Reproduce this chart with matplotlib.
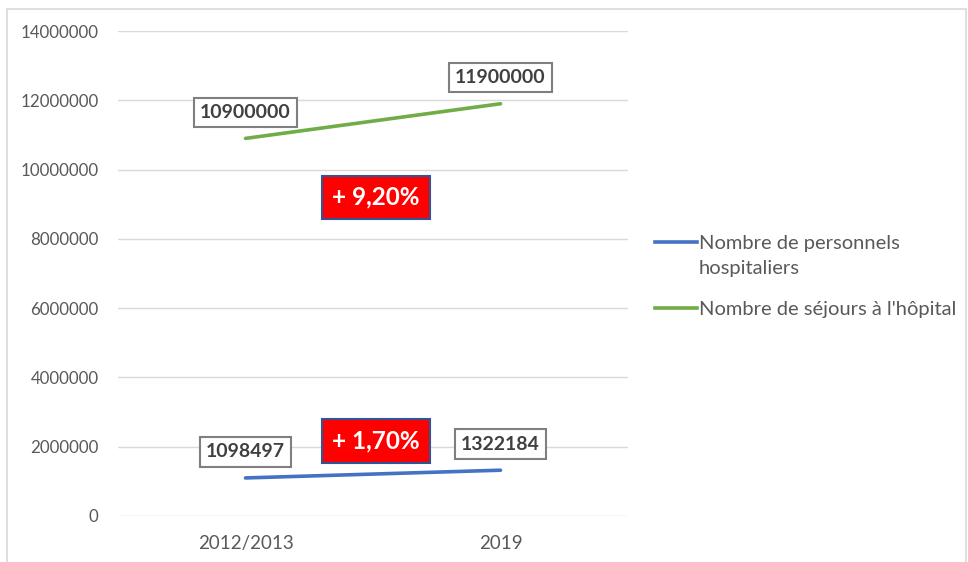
import matplotlib
matplotlib.use("Agg")
import matplotlib.pyplot as plt
from matplotlib.lines import Line2D
from matplotlib.patches import Rectangle

plt.rcParams['font.family'] = ['Lato', 'DejaVu Sans']

categories = ['2012/2013', '2019']
personnels = [1098497, 1322184]
sejours = [10900000, 11900000]
series_labels = ['Nombre de personnels\nhospitaliers', "Nombre de séjours à l'hôpital"]
growth_labels = ['+ 9,20%', '+ 1,70%']
growth_y = [9200000, 2160000]
yticks = [0, 2000000, 4000000, 6000000, 8000000, 10000000, 12000000, 14000000]

BLUE = '#4472C4'
GREEN = '#70AD47'
GRID = '#d9d9d9'
TXT = '#595959'

W, H = 968, 562
fig = plt.figure(figsize=(W / 100, H / 100), dpi=100)
ax = fig.add_axes([118 / W, 1 - 516 / H, 510 / W, 485 / H])

x = list(range(len(categories)))
ax.plot(x, personnels, color=BLUE, lw=2.6, solid_capstyle='round')
ax.plot(x, sejours, color=GREEN, lw=2.6, solid_capstyle='round')

ax.set_xlim(-0.5, 1.5)
ax.set_ylim(0, 14000000)
ax.set_yticks(yticks)
ax.set_yticklabels([str(v) for v in yticks])
ax.set_xticks(x)
ax.set_xticklabels(categories)
ax.tick_params(axis='both', length=0, colors=TXT)
ax.tick_params(axis='y', pad=14, labelsize=12.2)
ax.tick_params(axis='x', pad=14, labelsize=13.5)
for s in ax.spines.values():
    s.set_visible(False)
ax.grid(axis='y', color=GRID, lw=1)
ax.set_axisbelow(True)

# data labels
for series in (sejours, personnels):
    for xi, v in zip(x, series):
        ax.annotate(str(v), (xi, v), xytext=(0, 26), textcoords='offset pixels',
                    ha='center', va='center', fontsize=14, fontweight='bold',
                    color='#404040',
                    bbox=dict(boxstyle='square,pad=0.32', fc='white', ec='#7f7f7f', lw=1.5))

# growth boxes
for lab, gy in zip(growth_labels, growth_y):
    ax.text(0.51, gy, lab, ha='center', va='center', fontsize=17.5, fontweight='bold',
            color='white',
            bbox=dict(boxstyle='square,pad=0.42', fc='#ff0000', ec='#2f5597', lw=1.5))

# legend
leg_y = [242, 308]
for col, lab, ly in zip([BLUE, GREEN], series_labels, leg_y):
    fig.add_artist(Line2D([655 / W, 697 / W], [1 - ly / H, 1 - ly / H], color=col, lw=2.6,
                          transform=fig.transFigure))
    fig.text(699 / W, 1 - (ly - 7) / H, lab, ha='left', va='top', fontsize=14.5,
             color=TXT, linespacing=1.55)

# outer border
fig.add_artist(Rectangle((6.5 / W, -0.05), (966 - 6.5) / W, 1.05 - 9 / H,
                         transform=fig.transFigure, fill=False, ec=GRID, lw=1.2))

fig.savefig('out.png', dpi=100)
